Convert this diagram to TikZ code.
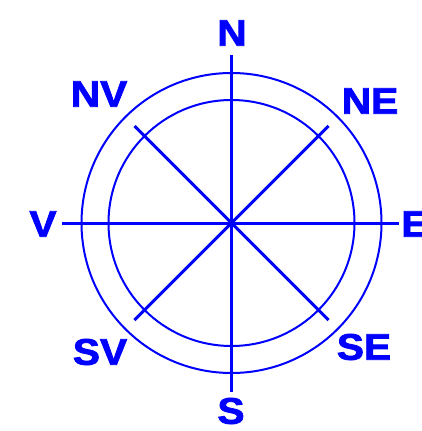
\documentclass[tikz,border=0pt]{standalone}
\usepackage{fontspec}
\setmainfont{Liberation Sans}
\newfontfamily\lblfont[FakeBold=2.2,FakeStretch=1.1]{Liberation Sans Bold}
\usetikzlibrary{calc}
\definecolor{cblue}{RGB}{0,0,255}
\tikzset{
  lbl/.style={text=cblue, font=\fontsize{37}{37}\selectfont\lblfont, inner sep=0pt, anchor=center},
  ring/.style={draw=cblue, line width=2pt},
  spoke/.style={draw=cblue, line width=3pt},
}
\begin{document}
\begin{tikzpicture}[x=1pt,y=-1pt]
\useasboundingbox (0,0) rectangle (421,431);
\coordinate (c) at (231.5,223);
\draw[ring] (c) circle (150);
\draw[ring] (c) circle (123);
\coordinate (nE) at (231.5,55);
\coordinate (sE) at (231.5,392);
\coordinate (vE) at (62,223);
\coordinate (eE) at (399,223);
\coordinate (nvE) at ($(c)+(-97,-97)$);
\coordinate (seE) at ($(c)+(97,97)$);
\coordinate (neE) at ($(c)+(97,-97)$);
\coordinate (svE) at ($(c)+(-97,97)$);
\draw[spoke] (nE) -- (sE);
\draw[spoke] (vE) -- (eE);
\draw[spoke] (nvE) -- (seE);
\draw[spoke] (neE) -- (svE);
\node[lbl] (N) at (232,33) {N};
\node[lbl] (S) at (231,411) {S};
\node[lbl] (V) at (43,224) {V};
\node[lbl] (E) at (415,224) {E};
\node[lbl] (NV) at (99,94) {NV};
\node[lbl] (NE) at (370,101) {NE};
\node[lbl] (SV) at (100,352) {SV};
\node[lbl] (SE) at (364,347) {SE};
\end{tikzpicture}
\end{document}
